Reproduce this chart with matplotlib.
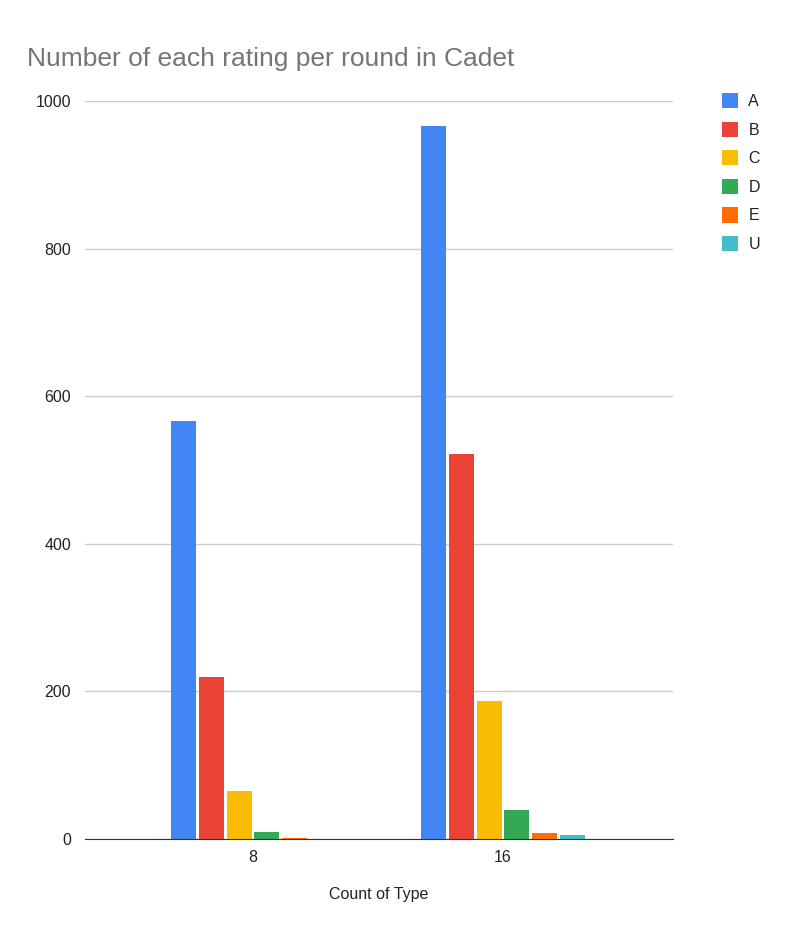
import numpy as np
import matplotlib.pyplot as plt

rounds = ["8", "16"]
ratings = ["A", "B", "C", "D", "E", "U"]
counts = {
    "A": [566, 966],
    "B": [220, 522],
    "C": [65, 187],
    "D": [10, 39],
    "E": [1, 8],
    "U": [0, 6],
}
colors = ["#4285F4", "#EA4335", "#FBBC04", "#34A853", "#FF6D01", "#46BDC6"]

plt.rcParams['font.family'] = ['Liberation Sans', 'DejaVu Sans']

fig = plt.figure(figsize=(8, 9.43), dpi=100)
ax = fig.add_axes([85 / 800, 1 - 839 / 943, (673 - 85) / 800, (839 - 101) / 943])

x = np.arange(len(rounds))
step = 0.111
width = 0.1
for i, (r, c) in enumerate(zip(ratings, colors)):
    offset = (i - 2.5) * step
    ax.bar(x + offset, counts[r], width=width, color=c, label=r, zorder=3)

ax.set_xlim(-0.672, 1.68)
ax.set_ylim(0, 1000)
ax.set_yticks(range(0, 1001, 200))
ax.set_xticks(x)
ax.set_xticklabels(rounds)
ax.grid(axis="y", color="#cccccc", linewidth=1, zorder=0)
for s in ["top", "right", "left"]:
    ax.spines[s].set_visible(False)
ax.spines["bottom"].set_color("#333333")
ax.spines["bottom"].set_zorder(4)
ax.tick_params(axis="both", length=0, labelsize=11.5, colors="#222222")
ax.tick_params(axis="y", pad=10)
ax.tick_params(axis="x", pad=8)
ax.set_xlabel("Count of Type", fontsize=11.5, color="#222222", labelpad=16)

fig.text(27 / 800, 1 - 59 / 943, "Number of each rating per round in Cadet",
         fontsize=19, color="#757575", va="center", ha="left")

leg = ax.legend(loc="upper left", bbox_to_anchor=(722 / 800, 1 - 93 / 943),
                bbox_transform=fig.transFigure, frameon=False, fontsize=11.5,
                handlelength=1.0, handleheight=1.1, labelspacing=0.78,
                handletextpad=0.65, borderpad=0, borderaxespad=0)
for t in leg.get_texts():
    t.set_color("#222222")

fig.savefig("out.png", dpi=100)
